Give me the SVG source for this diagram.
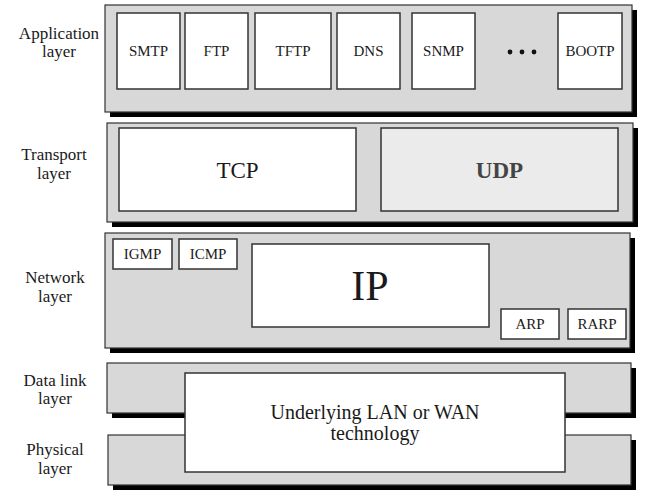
<svg xmlns="http://www.w3.org/2000/svg" width="669" height="503" viewBox="0 0 669 503">
<style>
.lbl{font-family:"Liberation Serif",serif;font-size:17px;fill:#1a1a1a;text-anchor:middle}
.t{font-family:"Liberation Serif",serif;fill:#1a1a1a;text-anchor:middle}
.s{font-size:15px}
.band{fill:#d8d8d8;stroke:#333;stroke-width:1.2}
.sh{fill:#000}
.box{fill:#fff;stroke:#333;stroke-width:1.5}
</style>
<rect width="669" height="503" fill="#fff"/>
<g id="labels">
<text class="lbl" x="59" y="39">Application</text><text class="lbl" x="59" y="57">layer</text>
<text class="lbl" x="54" y="160">Transport</text><text class="lbl" x="54" y="179">layer</text>
<text class="lbl" x="55" y="283">Network</text><text class="lbl" x="55" y="302">layer</text>
<text class="lbl" x="55" y="386">Data link</text><text class="lbl" x="55" y="404">layer</text>
<text class="lbl" x="55" y="455">Physical</text><text class="lbl" x="55" y="474">layer</text>
</g>
<g id="application">
<rect class="sh" x="110" y="10" width="527" height="107"/>
<rect class="band" x="105" y="5" width="527" height="107"/>
</g>
<g id="smtp"><rect class="box" x="117" y="13" width="63" height="76"/><text class="t s" x="148.5" y="56">SMTP</text></g>
<g id="ftp"><rect class="box" x="185" y="13" width="63" height="76"/><text class="t s" x="216.5" y="56">FTP</text></g>
<g id="tftp"><rect class="box" x="255" y="13" width="76" height="76"/><text class="t s" x="293" y="56">TFTP</text></g>
<g id="dns"><rect class="box" x="337" y="13" width="63" height="76"/><text class="t s" x="368.5" y="56">DNS</text></g>
<g id="snmp"><rect class="box" x="412" y="13" width="63" height="76"/><text class="t s" x="443.5" y="56">SNMP</text></g>
<g id="dots"><circle cx="510" cy="52" r="2.4" fill="#111"/><circle cx="522" cy="52" r="2.4" fill="#111"/><circle cx="534" cy="52" r="2.4" fill="#111"/></g>
<g id="bootp"><rect class="box" x="558" y="13" width="64" height="76"/><text class="t s" x="590" y="56">BOOTP</text></g>
<g id="transport">
<rect class="sh" x="112" y="128" width="526" height="99"/>
<rect class="band" x="107" y="123" width="526" height="99"/>
</g>
<g id="tcp"><rect class="box" x="119" y="128" width="237" height="83"/><text class="t" x="237.5" y="178" font-size="23">TCP</text></g>
<g id="udp"><rect class="box" x="381" y="128" width="237" height="83" style="fill:#ebebeb"/><text class="t" x="499.5" y="178" font-size="23" font-weight="bold" style="fill:#444">UDP</text></g>
<g id="network">
<rect class="sh" x="110" y="238" width="525" height="115"/>
<rect class="band" x="105" y="233" width="525" height="115"/>
</g>
<g id="igmp"><rect class="box" x="113" y="239" width="59" height="30"/><text class="t s" x="142.5" y="259">IGMP</text></g>
<g id="icmp"><rect class="box" x="179" y="239" width="58" height="30"/><text class="t s" x="208" y="259">ICMP</text></g>
<g id="ip"><rect class="box" x="252" y="244" width="237" height="83"/><text class="t" x="370" y="300" font-size="42">IP</text></g>
<g id="arp"><rect class="box" x="501" y="309" width="58" height="30"/><text class="t s" x="530" y="329">ARP</text></g>
<g id="rarp"><rect class="box" x="568" y="309" width="58" height="30"/><text class="t s" x="597" y="329">RARP</text></g>
<g id="datalink">
<rect class="sh" x="112" y="368" width="524" height="50"/>
<rect class="band" x="107" y="363" width="524" height="50"/>
</g>
<g id="physical">
<rect class="sh" x="113" y="440" width="523" height="50"/>
<rect class="band" x="108" y="435" width="523" height="50"/>
</g>
<g id="underlying"><rect class="box" x="185" y="373" width="380" height="99"/>
<text class="t" x="375" y="419" font-size="20">Underlying LAN or WAN</text>
<text class="t" x="375" y="440" font-size="20">technology</text></g>
</svg>
